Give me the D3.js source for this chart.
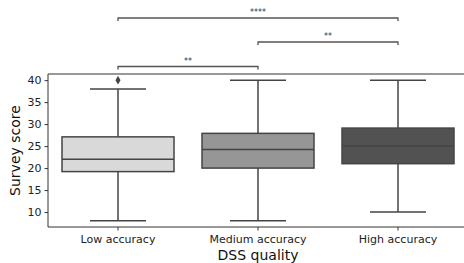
<!DOCTYPE html>
<html>
<head>
<meta charset="utf-8">
<script src="https://cdn.jsdelivr.net/npm/d3@7"></script>
<style>
  body { margin: 0; background: #fff; }
  svg { display: block; font-family: "DejaVu Sans", sans-serif; }
</style>
</head>
<body>
<svg width="464" height="263"></svg>
<script>
// box statistics
const categories = ["Low accuracy", "Medium accuracy", "High accuracy"];
const whiskerLow = [8, 8, 10];
const q1 = [19.2, 20, 21];
const medians = [22, 24.2, 25];
const q3 = [27.1, 27.9, 29.1];
const whiskerHigh = [38, 40, 40];
const outliers = [[40], [], []];
const fills = ["#d9d9d9", "#969696", "#525252"];

const yTicks = [10, 15, 20, 25, 30, 35, 40];

// significance brackets: [from, to, label]
const pairs = [
  ["Low accuracy", "Medium accuracy", "**"],
  ["Medium accuracy", "High accuracy", "**"],
  ["Low accuracy", "High accuracy", "****"]
];

const svg = d3.select("svg"),
    margin = {top: 74, right: -4, bottom: 36, left: 48},
    width = +svg.attr("width") - margin.left - margin.right,
    height = +svg.attr("height") - margin.top - margin.bottom;

const lineColor = "#444";

const x = d3.scaleBand().domain(categories).range([0, width]).paddingInner(0).paddingOuter(0);
const y = d3.scaleLinear().domain([6.6, 41.4]).range([height, 0]);

const g = svg.append("g")
    .attr("transform", `translate(${margin.left},${margin.top})`);

const boxW = x.bandwidth() * 0.8;
const capW = boxW / 2;

const data = categories.map((c, i) => ({
  cat: c, lo: whiskerLow[i], q1: q1[i], med: medians[i], q3: q3[i], hi: whiskerHigh[i],
  out: outliers[i], fill: fills[i]
}));

const box = g.selectAll(".box").data(data).enter().append("g")
    .attr("class", "box")
    .attr("transform", d => `translate(${x(d.cat) + x.bandwidth() / 2},0)`);

// whiskers
box.append("line").attr("x1", 0).attr("x2", 0)
    .attr("y1", d => y(d.q3)).attr("y2", d => y(d.hi))
    .attr("stroke", lineColor).attr("stroke-width", 1.5);
box.append("line").attr("x1", 0).attr("x2", 0)
    .attr("y1", d => y(d.q1)).attr("y2", d => y(d.lo))
    .attr("stroke", lineColor).attr("stroke-width", 1.5);
box.append("line").attr("x1", -capW / 2).attr("x2", capW / 2)
    .attr("y1", d => y(d.hi)).attr("y2", d => y(d.hi))
    .attr("stroke", lineColor).attr("stroke-width", 1.5);
box.append("line").attr("x1", -capW / 2).attr("x2", capW / 2)
    .attr("y1", d => y(d.lo)).attr("y2", d => y(d.lo))
    .attr("stroke", lineColor).attr("stroke-width", 1.5);

// boxes
box.append("rect")
    .attr("x", -boxW / 2).attr("width", boxW)
    .attr("y", d => y(d.q3)).attr("height", d => y(d.q1) - y(d.q3))
    .attr("fill", d => d.fill)
    .attr("stroke", lineColor).attr("stroke-width", 1.5);
box.append("line").attr("x1", -boxW / 2).attr("x2", boxW / 2)
    .attr("y1", d => y(d.med)).attr("y2", d => y(d.med))
    .attr("stroke", lineColor).attr("stroke-width", 1.5);

// outliers (diamonds)
box.selectAll(".out").data(d => d.out).enter().append("path")
    .attr("class", "out")
    .attr("transform", v => `translate(0,${y(v)})`)
    .attr("d", d3.symbol(d3.symbolDiamond, 22))
    .attr("fill", lineColor);

// axes
const xAxis = g.append("g")
    .attr("transform", `translate(0,${height})`)
    .call(d3.axisBottom(x).tickSize(3.5).tickPadding(5));
const yAxis = g.append("g")
    .call(d3.axisLeft(y).tickValues(yTicks).tickSize(3.5).tickPadding(3));

[xAxis, yAxis].forEach(a => {
  a.selectAll("text").style("font-size", "11px").attr("fill", "#222").style("font-family", "DejaVu Sans");
  a.selectAll(".tick line").attr("stroke", "#333");
  a.select(".domain").remove();
});

// frame
g.append("line").attr("x1", 0).attr("x2", 0).attr("y1", 0).attr("y2", height).attr("stroke", "#333");
g.append("line").attr("x1", 0).attr("x2", width).attr("y1", height).attr("y2", height).attr("stroke", "#333");
g.append("line").attr("x1", 0).attr("x2", width).attr("y1", 0).attr("y2", 0).attr("stroke", "#333");

// axis titles
svg.append("text")
    .attr("x", margin.left + width / 2).attr("y", 260)
    .attr("text-anchor", "middle")
    .style("font-size", "14px").attr("fill", "#111")
    .text("DSS quality");
svg.append("text")
    .attr("transform", `translate(20,${margin.top + height / 2}) rotate(-90)`)
    .attr("text-anchor", "middle")
    .style("font-size", "14px").attr("fill", "#111")
    .text("Survey score");

// significance brackets
const bracketY = [66.5, 42, 18];
pairs.forEach((p, i) => {
  const x1 = margin.left + x(p[0]) + x.bandwidth() / 2,
      x2 = margin.left + x(p[1]) + x.bandwidth() / 2,
      yb = bracketY[i];
  svg.append("path")
      .attr("d", `M${x1},${yb + 3}V${yb}H${x2}V${yb + 3}`)
      .attr("fill", "none").attr("stroke", "#555").attr("stroke-width", 1.3);
  svg.append("text")
      .attr("x", (x1 + x2) / 2).attr("y", yb - 3)
      .attr("text-anchor", "middle")
      .style("font-size", "8px").attr("fill", "#333")
      .text(p[2]);
});
</script>
</body>
</html>
